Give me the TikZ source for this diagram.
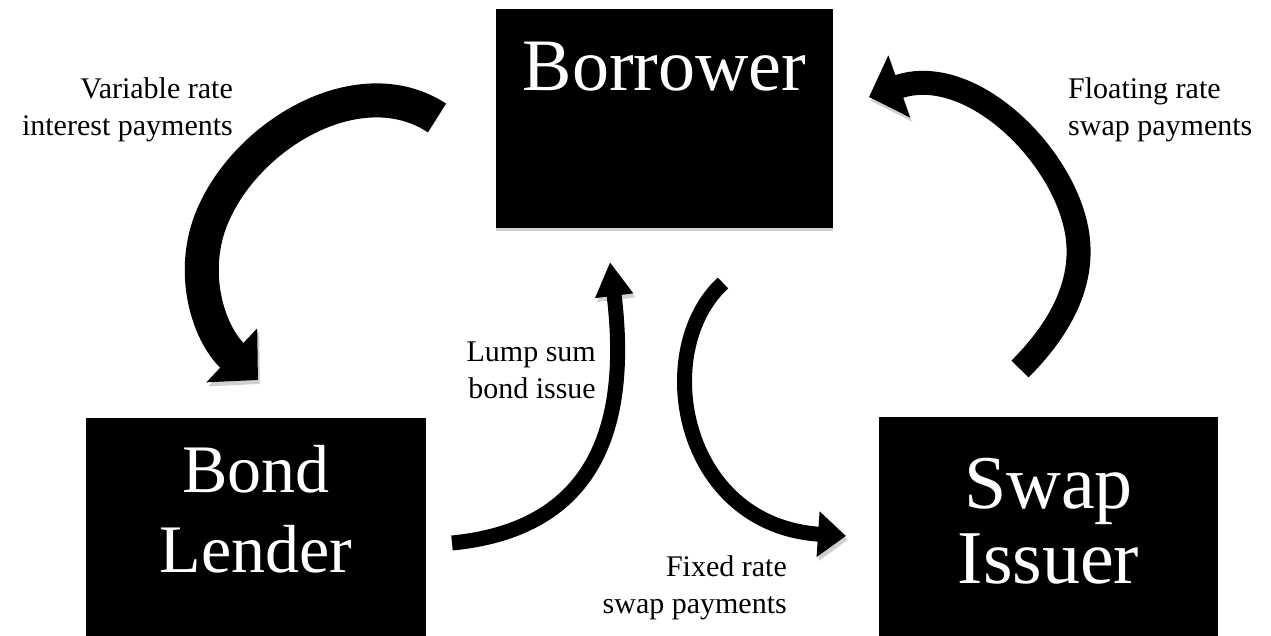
\documentclass[tikz,border=0pt]{standalone}
\usepackage{fontspec}
\setmainfont{Liberation Serif}
\usetikzlibrary{arrows.meta,shadows}
\definecolor{shade}{RGB}{208,208,208}
\tikzstyle{party} = [fill=black, text=white, inner sep=0pt, align=center, drop shadow={shadow xshift=0pt, shadow yshift=-3pt, fill=shade, opacity=1}]
\tikzstyle{note} = [inner sep=0pt, text=black, font=\fontsize{30}{37}\selectfont]
\tikzset{flow/.style={draw=black, line width=#1, preaction={draw=shade, transform canvas={shift={(2pt,-4pt)}}}}}

\begin{document}
\begin{tikzpicture}[x=1pt, y=-1pt]
\useasboundingbox (0,0) rectangle (1271,635);

% parties =============================
\node[party, font=\fontsize{74}{80}\selectfont, text width=337pt, text height=81pt, text depth=138pt, anchor=base] (borrower) at (664.5,90) {Borrower};
\node[party, font=\fontsize{68}{80}\selectfont, text width=340pt, text height=74pt, text depth=148pt, anchor=base] (lender) at (256,492) {Bond\\Lender};
\node[party, font=\fontsize{76}{75}\selectfont, text width=339pt, text height=91pt, text depth=132pt, anchor=base] (issuer) at (1048.5,508) {Swap\\Issuer};

% labels (base = last line) =============================
\node[note, align=right, anchor=base east] (varnote) at (233,135) {Variable rate\\interest payments};
\node[note, align=left, anchor=base west] (floatnote) at (1068,135) {Floating rate\\swap payments};
\node[note, align=right, anchor=base east] (lumpnote) at (596,398) {Lump sum\\bond issue};
\node[note, align=right, anchor=base east] (fixnote) at (787,613) {Fixed rate\\swap payments};

% arrow ends =============================
\coordinate (vartail) at (437,118);
\coordinate (varbend) at (213,215);
\coordinate (varhead) at (258,380);
\coordinate (lumptail) at (452,543);
\coordinate (lumphead) at (610,262);
\coordinate (fixtail) at (723,283);
\coordinate (fixhead) at (846,536);
\coordinate (floattail) at (1020,369);
\coordinate (floatbend) at (1078,240);
\coordinate (floathead) at (869,97);

% flows =============================
\path[flow=34pt, -{Triangle[width=72pt,length=36pt]}] (vartail) .. controls (361,68) and (249,132) .. (varbend) .. controls (189,270) and (207,332) .. (varhead);
\path[flow=15pt, -{Triangle[width=36pt,length=34pt]}] (lumptail) .. controls (585,530) and (632,440) .. (lumphead);
\path[flow=15pt, -{Triangle[width=44pt,length=28pt]}] (fixtail) .. controls (650,350) and (680,525) .. (fixhead);
\path[flow=24pt, -{Triangle[width=64pt,length=32pt]}] (floattail) .. controls (1055,334) and (1083,290) .. (floatbend) .. controls (1070,160) and (972,61) .. (floathead);

\end{tikzpicture}
\end{document}
